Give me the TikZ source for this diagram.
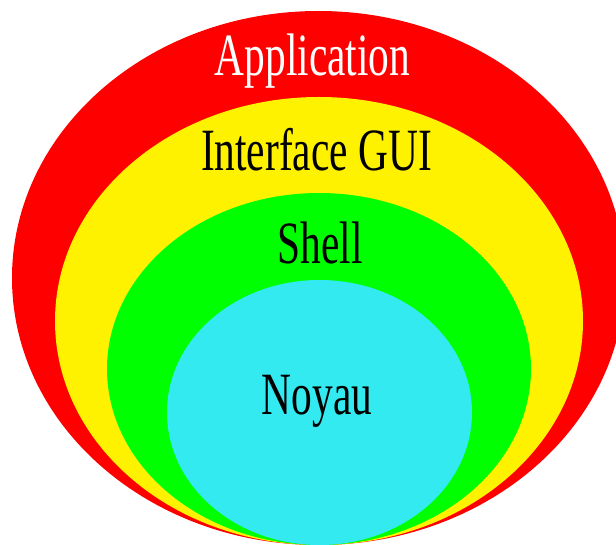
\documentclass[tikz,border=0pt]{standalone}
\usepackage{fontspec}
\newfontfamily\couchefont[FakeStretch=0.69]{Liberation Serif}
\definecolor{noyaucyan}{RGB}{50,234,240}
\tikzset{couche/.style={font=\couchefont\fontsize{60}{60}\selectfont, anchor=base, inner sep=0pt}}
\begin{document}
\begin{tikzpicture}[x=1pt,y=-1pt]
    \useasboundingbox (0,0) rectangle (616,545);
    \foreach \c/\cx/\cy/\rx/\ry in {red/318.5/278/306.5/267, yellow/319/321/264/224, green/319/369/212/176, noyaucyan/319.5/412.5/152.5/132.5}
        \fill[\c] (\cx,\cy) ellipse ({\rx} and {\ry});
    \node[couche, text=white] (application) at (312.5,76) {Application};
    \node[couche] (interface) at (316.5,171) {Interface GUI};
    \node[couche] (shell) at (320,264) {Shell};
    \node[couche] (noyau) at (317,414) {Noyau};
\end{tikzpicture}
\end{document}
